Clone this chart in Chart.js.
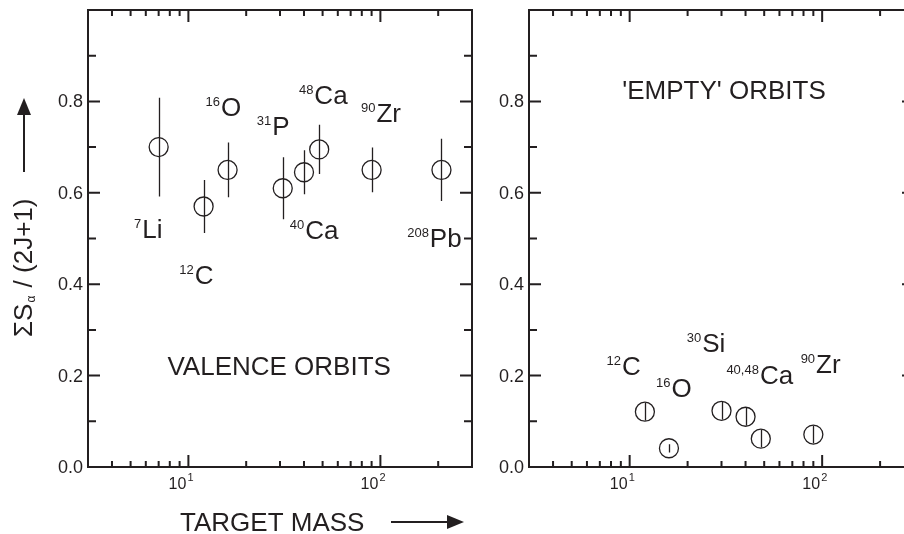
<!DOCTYPE html>
<html>
<head>
<meta charset="utf-8">
<script src="https://cdn.jsdelivr.net/npm/chart.js@4.4.0/dist/chart.umd.min.js"></script>
<style>
  html, body { margin: 0; padding: 0; background: #fff; overflow: hidden; width: 904px; height: 534px; }
  canvas { position: absolute; top: 0; }
  #valenceChart { left: 0; }
  #emptyChart { left: 480px; }
</style>
</head>
<body>
<canvas id="valenceChart" width="480" height="534"></canvas>
<canvas id="emptyChart" width="440" height="534"></canvas>
<script>
// Values
// Left panel: valence orbits
const valenceMass = [7, 12, 16, 31, 40, 48, 90, 208];
const valenceSum = [0.70, 0.57, 0.65, 0.61, 0.645, 0.695, 0.65, 0.65];
const valenceErr = [0.108, 0.058, 0.06, 0.068, 0.048, 0.054, 0.049, 0.068];
// label = [superscript, symbol, mass position, value position]
const valenceLabels = [
  ["7", "Li", 5.75, 0.502],
  ["12", "C", 10.8, 0.401],
  ["16", "O", 14.8, 0.768],
  ["31", "P", 27.3, 0.726],
  ["48", "Ca", 45.3, 0.794],
  ["90", "Zr", 95.3, 0.754],
  ["40", "Ca", 40.6, 0.50],
  ["208", "Pb", 181, 0.482]
];

// Right panel: 'empty' orbits
const emptyMass = [12, 16, 30, 40, 48, 90];
const emptySum = [0.121, 0.041, 0.123, 0.110, 0.062, 0.071];
const emptyErr = [0.019, 0.009, 0.019, 0.019, 0.019, 0.019];
const emptyLabels = [
  ["12", "C", 9.12, 0.202],
  ["16", "O", 16.5, 0.154],
  ["30", "Si", 23.8, 0.252],
  ["40,48", "Ca", 47.5, 0.182],
  ["90", "Zr", 93, 0.205]
];

// Axis ticks
const yMajorTicks = [0, 0.2, 0.4, 0.6, 0.8];
const yTickLabels = ["0.0", "0.2", "0.4", "0.6", "0.8"];
const yMinorTicks = [0.1, 0.3, 0.5, 0.7, 0.9];
const xMajorTicks = [10, 100];
const xTickExponents = ["1", "2"];
const xMinorTicks = [4, 5, 6, 7, 8, 9, 20, 30, 40, 50, 60, 70, 80, 90, 200];

const ink = "#231f20";
const fontName = "'Liberation Sans', Arial, sans-serif";

function font(size) {
  return size + "px " + fontName;
}

// draws text with a small raised prefix, e.g. 40Ca
function drawIsotope(ctx, sup, text, x, y) {
  ctx.textAlign = "left";
  ctx.textBaseline = "alphabetic";
  ctx.font = font(13);
  const w = ctx.measureText(sup).width;
  ctx.fillText(sup, x - w - 1, y - 10);
  ctx.font = font(26);
  ctx.fillText(text, x, y);
}

function arrowHead(ctx, tipX, tipY, dx, dy) {
  // dx,dy = unit direction of the arrow
  const len = 17, half = 7;
  ctx.beginPath();
  ctx.moveTo(tipX, tipY);
  ctx.lineTo(tipX - dx * len - dy * half, tipY - dy * len + dx * half);
  ctx.lineTo(tipX - dx * len + dy * half, tipY - dy * len - dx * half);
  ctx.closePath();
  ctx.fill();
}

function makePanel(canvasId, mass, sum, err, labels, panelTitle, titlePos, padding, withAxisTitles) {
  const points = mass.map((m, i) => ({ x: m, y: sum[i] }));

  const framePlugin = {
    id: "frame",
    beforeDatasetsDraw(chart) {
      const ctx = chart.ctx;
      const xs = chart.scales.x;
      const ys = chart.scales.y;
      ctx.save();
      ctx.strokeStyle = ink;
      ctx.lineWidth = 1.3;
      ctx.beginPath();
      for (let i = 0; i < mass.length; i++) {
        const px = Math.round(xs.getPixelForValue(mass[i])) + 0.5;
        ctx.moveTo(px, ys.getPixelForValue(sum[i] + err[i]));
        ctx.lineTo(px, ys.getPixelForValue(sum[i] - err[i]));
      }
      ctx.stroke();
      ctx.restore();
    },
    afterDraw(chart) {
      const ctx = chart.ctx;
      const a = chart.chartArea;
      const xs = chart.scales.x;
      const ys = chart.scales.y;
      ctx.save();
      ctx.strokeStyle = ink;
      ctx.fillStyle = ink;
      ctx.lineWidth = 2;
      ctx.strokeRect(a.left, a.top, a.right - a.left, a.bottom - a.top);

      // inward ticks on all four sides
      ctx.beginPath();
      for (const v of yMajorTicks) {
        const py = ys.getPixelForValue(v);
        ctx.moveTo(a.left, py); ctx.lineTo(a.left + 12, py);
        ctx.moveTo(a.right, py); ctx.lineTo(a.right - 12, py);
      }
      for (const v of yMinorTicks) {
        const py = ys.getPixelForValue(v);
        ctx.moveTo(a.left, py); ctx.lineTo(a.left + 8, py);
        ctx.moveTo(a.right, py); ctx.lineTo(a.right - 8, py);
      }
      for (const v of xMajorTicks) {
        const px = xs.getPixelForValue(v);
        ctx.moveTo(px, a.bottom); ctx.lineTo(px, a.bottom - 12);
        ctx.moveTo(px, a.top); ctx.lineTo(px, a.top + 12);
      }
      for (const v of xMinorTicks) {
        const px = xs.getPixelForValue(v);
        ctx.moveTo(px, a.bottom); ctx.lineTo(px, a.bottom - 6);
        ctx.moveTo(px, a.top); ctx.lineTo(px, a.top + 6);
      }
      ctx.stroke();

      // tick labels
      ctx.font = font(18);
      ctx.textAlign = "right";
      ctx.textBaseline = "middle";
      yMajorTicks.forEach((v, i) => {
        ctx.fillText(yTickLabels[i], a.left - 5, ys.getPixelForValue(v) + 1);
      });
      xMajorTicks.forEach((v, i) => {
        const px = xs.getPixelForValue(v);
        ctx.textBaseline = "alphabetic";
        ctx.textAlign = "right";
        ctx.font = font(16);
        ctx.fillText("10", px - 2, a.bottom + 22);
        ctx.textAlign = "left";
        ctx.font = font(11);
        ctx.fillText(xTickExponents[i], px - 1, a.bottom + 14);
      });

      // nucleus labels
      for (const [sup, text, lx, ly] of labels) {
        drawIsotope(ctx, sup, text, xs.getPixelForValue(lx), ys.getPixelForValue(ly));
      }

      ctx.font = font(26);
      ctx.textAlign = "center";
      ctx.textBaseline = "alphabetic";
      ctx.fillText(panelTitle, xs.getPixelForValue(titlePos[0]), ys.getPixelForValue(titlePos[1]));

      if (withAxisTitles) {
        ctx.textAlign = "left";
        ctx.fillText("TARGET MASS", 180, 531);
        ctx.lineWidth = 2;
        ctx.beginPath();
        ctx.moveTo(391, 522); ctx.lineTo(450, 522);
        ctx.stroke();
        arrowHead(ctx, 464, 522, 1, 0);

        ctx.beginPath();
        ctx.moveTo(24, 172); ctx.lineTo(24, 112);
        ctx.stroke();
        arrowHead(ctx, 24, 98, 0, -1);

        ctx.save();
        ctx.translate(32, 337);
        ctx.rotate(-Math.PI / 2);
        ctx.textAlign = "left";
        ctx.font = font(26);
        let off = 0;
        ctx.fillText("\u03A3S", off, 0);
        off += ctx.measureText("\u03A3S").width;
        ctx.font = font(12);
        ctx.fillText("\u03B1", off + 1, 3);
        off += ctx.measureText("\u03B1").width + 2;
        ctx.font = font(26);
        ctx.fillText(" / (2J+1)", off, 0);
        ctx.restore();
      }
      ctx.restore();
    }
  };

  return new Chart(document.getElementById(canvasId), {
    type: "scatter",
    data: {
      datasets: [{
        data: points,
        pointRadius: 9.5,
        pointBorderWidth: 1.3,
        pointBackgroundColor: "rgba(0,0,0,0)",
        pointBorderColor: ink,
        showLine: false,
        clip: false
      }]
    },
    options: {
      responsive: false,
      animation: false,
      events: [],
      layout: { padding: padding, autoPadding: false },
      plugins: { legend: { display: false }, tooltip: { enabled: false } },
      scales: {
        x: { type: "logarithmic", min: 3, max: 300, display: false },
        y: { type: "linear", min: 0, max: 1, display: false }
      }
    },
    plugins: [framePlugin]
  });
}

makePanel("valenceChart", valenceMass, valenceSum, valenceErr, valenceLabels,
  "VALENCE ORBITS", [29.7, 0.202], { left: 88, right: 8, top: 10, bottom: 67 }, true);
makePanel("emptyChart", emptyMass, emptySum, emptyErr, emptyLabels,
  "'EMPTY' ORBITS", [30.9, 0.805], { left: 49, right: 6, top: 10, bottom: 67 }, false);
</script>
</body>
</html>
